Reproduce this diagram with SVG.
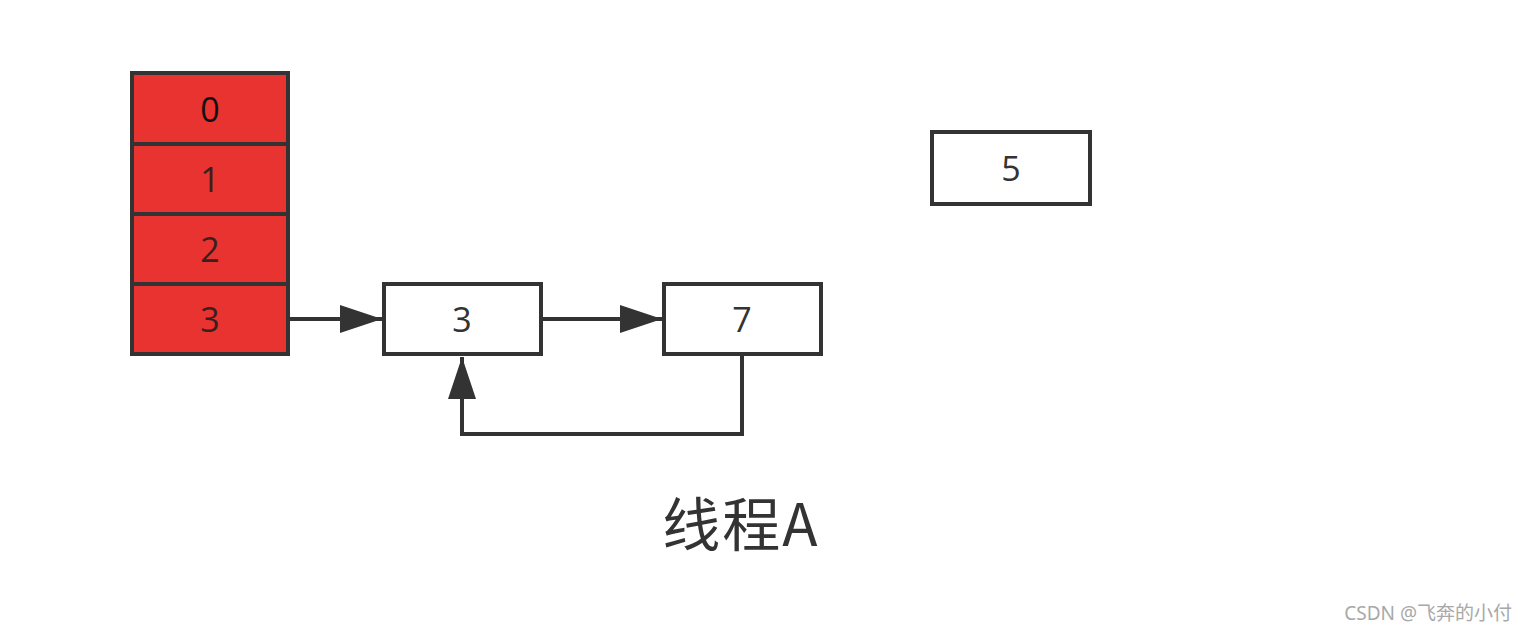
<svg xmlns="http://www.w3.org/2000/svg" width="1528" height="632" viewBox="0 0 1528 632">
<style>
.box{fill:#fff;stroke:#333;stroke-width:4}
.cell{fill:#e93330;stroke:#333;stroke-width:4}
.t{font-family:"Open Sans","Noto Sans",sans-serif;font-size:34px;fill:#333;text-anchor:middle}
.ct{font-family:"Open Sans","Noto Sans",sans-serif;font-size:34px;fill:#3a1f1f;text-anchor:middle}
.edge{fill:none;stroke:#333;stroke-width:4}
</style>
<defs>
<marker id="ah" markerUnits="userSpaceOnUse" markerWidth="44" markerHeight="30" refX="42" refY="14" orient="auto">
<path d="M0,0 L42,14 L0,28 Z" fill="#333"/>
</marker>
</defs>
<rect width="1528" height="632" fill="#fff"/>
<g id="array">
<rect class="cell" x="132" y="73" width="156" height="71"/>
<rect class="cell" x="132" y="144" width="156" height="70"/>
<rect class="cell" x="132" y="214" width="156" height="70"/>
<rect class="cell" x="132" y="284" width="156" height="70"/>
<text class="ct" x="210" y="122" style="fill:#111">0</text>
<text class="ct" x="210" y="192">1</text>
<text class="ct" x="210" y="262">2</text>
<text class="ct" x="210" y="332">3</text>
</g>
<g id="node3">
<rect class="box" x="384" y="284" width="157" height="70"/>
<text class="t" x="462" y="332">3</text>
</g>
<g id="node7">
<rect class="box" x="664" y="284" width="157" height="70"/>
<text class="t" x="742" y="332">7</text>
</g>
<g id="node5">
<rect class="box" x="932" y="132" width="158" height="72"/>
<text class="t" x="1011" y="181">5</text>
</g>
<g id="connectors">
<path class="edge" d="M288,319 L382,319" marker-end="url(#ah)"/>
<path class="edge" d="M541,319 L662,319" marker-end="url(#ah)"/>
<path class="edge" d="M742,354 L742,434 L462,434 L462,357" marker-end="url(#ah)"/>
</g>
<g id="label">
<text x="741" y="546" font-family="'Noto Sans CJK SC',sans-serif" font-size="58" letter-spacing="2" fill="#333" text-anchor="middle">线程A</text>
</g>
<text x="1512" y="620" font-family="'Noto Sans','Noto Sans CJK SC',sans-serif" font-size="19" fill="#a8a8a8" text-anchor="end">CSDN @飞奔的小付</text>
</svg>
